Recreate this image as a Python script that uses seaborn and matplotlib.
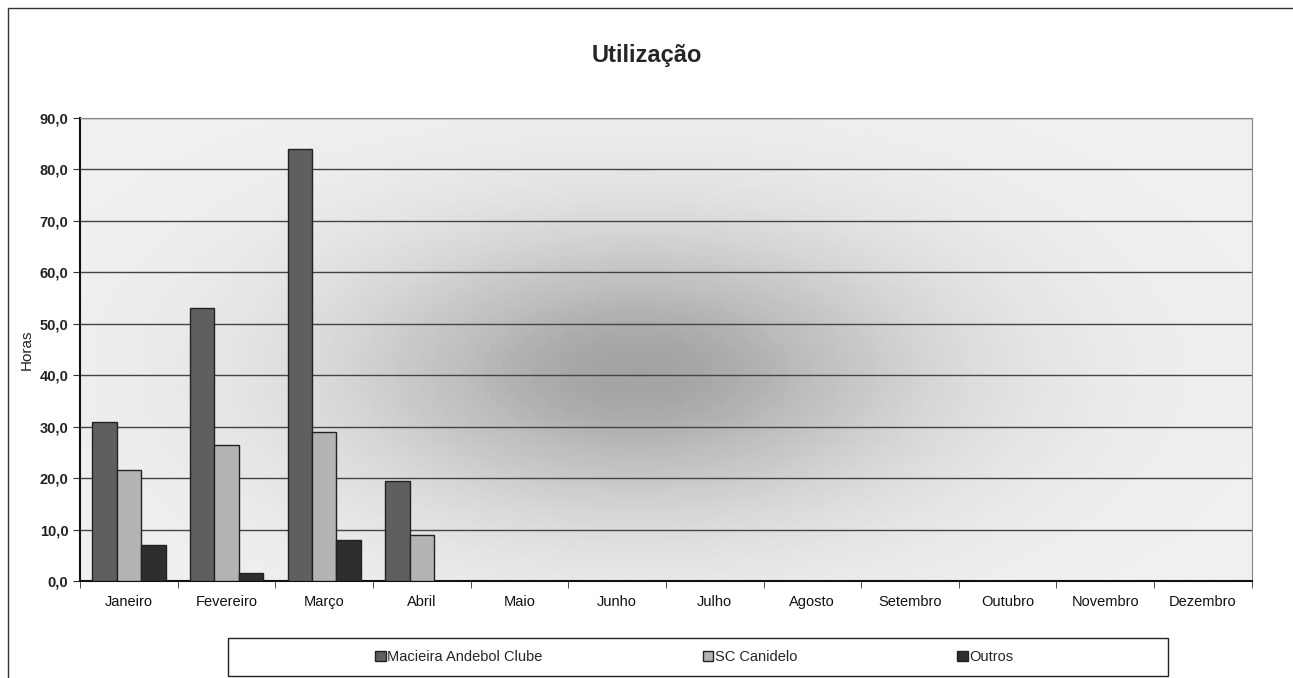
import numpy as np
import pandas as pd
import seaborn as sns
import matplotlib.pyplot as plt
from matplotlib.patches import Rectangle

# Data
meses = ['Janeiro', 'Fevereiro', 'Março', 'Abril', 'Maio', 'Junho', 'Julho',
         'Agosto', 'Setembro', 'Outubro', 'Novembro', 'Dezembro']
macieira = [31.0, 53.0, 84.0, 19.5, 0, 0, 0, 0, 0, 0, 0, 0]
canidelo = [21.5, 26.5, 29.0, 9.0, 0, 0, 0, 0, 0, 0, 0, 0]
outros = [7.0, 1.5, 8.0, 0, 0, 0, 0, 0, 0, 0, 0, 0]
series = ['Macieira Andebol Clube', 'SC Canidelo', 'Outros']
cores = ['#5f5f5f', '#b4b4b4', '#2e2e2e']

df = pd.DataFrame({'Mês': meses * 3,
                   'Horas': macieira + canidelo + outros,
                   'Série': np.repeat(series, len(meses))})

sns.set_style('white')
plt.rcParams['font.family'] = ['Liberation Sans', 'DejaVu Sans']

fig = plt.figure(figsize=(12.93, 6.78), dpi=100)
ax = fig.add_axes([0.062, 0.143, 0.906, 0.683])

# soft grey background (scanner shading)
gx, gy = np.meshgrid(np.linspace(-1, 1, 200), np.linspace(-1, 1, 100))
blob = np.exp(-((gx + 0.05) ** 2 / 0.3 + (gy - 0.1) ** 2 / 0.45))
ax.imshow(blob, extent=(-0.5, 11.5, 0, 90), aspect='auto', cmap='Greys',
          vmin=-0.35, vmax=2.6, zorder=0)

sns.barplot(data=df, x='Mês', y='Horas', hue='Série', palette=cores,
            width=0.75, edgecolor='#222222', linewidth=1.0, ax=ax, zorder=3,
            legend=False)

ax.set_xlim(-0.5, 11.5)
ax.set_ylim(0, 90)
ax.set_yticks(np.arange(0, 91, 10))
ax.set_yticklabels([f'{v:.1f}'.replace('.', ',') for v in np.arange(0, 91, 10)],
                   fontsize=10.5, fontweight='bold', color='#222222')
ax.yaxis.grid(True, color='#444444', linewidth=1.0, zorder=1)
ax.set_axisbelow(True)
ax.set_xticks(range(len(meses)))
ax.set_xticklabels(meses, fontsize=10.5, color='#111111')
ax.tick_params(axis='x', length=0, pad=10)
ax.tick_params(axis='y', length=5, direction='out', left=True, color='#333333')
ax.set_xticks(np.arange(-0.5, 12, 1), minor=True)
ax.tick_params(axis='x', which='minor', length=5, direction='out', bottom=True, color='#333333')

for side in ['top', 'right']:
    ax.spines[side].set_color('#888888')
    ax.spines[side].set_linewidth(0.8)
ax.spines['left'].set_color('#111111')
ax.spines['left'].set_linewidth(1.5)
ax.spines['bottom'].set_color('#111111')
ax.spines['bottom'].set_linewidth(1.5)

ax.set_xlabel('')
ax.set_ylabel('Horas', fontsize=11, color='#222222')
ax.yaxis.set_label_coords(-0.04, 0.5)

fig.text(0.5, 0.918, 'Utilização', ha='center', va='center',
         fontsize=17, fontweight='bold')

# legend
fig.patches.append(Rectangle((228 / 1293, 2 / 678), 940 / 1293, 38 / 678,
                             transform=fig.transFigure, fill=False,
                             edgecolor='#222222', linewidth=1.0))
handles = [Rectangle((0, 0), 1, 1, facecolor=c, edgecolor='#222222') for c in cores]
leg = fig.legend(handles, series, loc='center', ncol=3,
                 bbox_to_anchor=(0.537, 0.031),
                 fontsize=10.5, frameon=False, columnspacing=11.0,
                 handlelength=0.7, handleheight=0.7, handletextpad=0.1)

# page border
fig.patches.append(Rectangle((0.006, -0.01), 1.0, 0.998, transform=fig.transFigure,
                             fill=False, edgecolor='#333333', linewidth=1.0))

plt.savefig('out.png', dpi=100)
